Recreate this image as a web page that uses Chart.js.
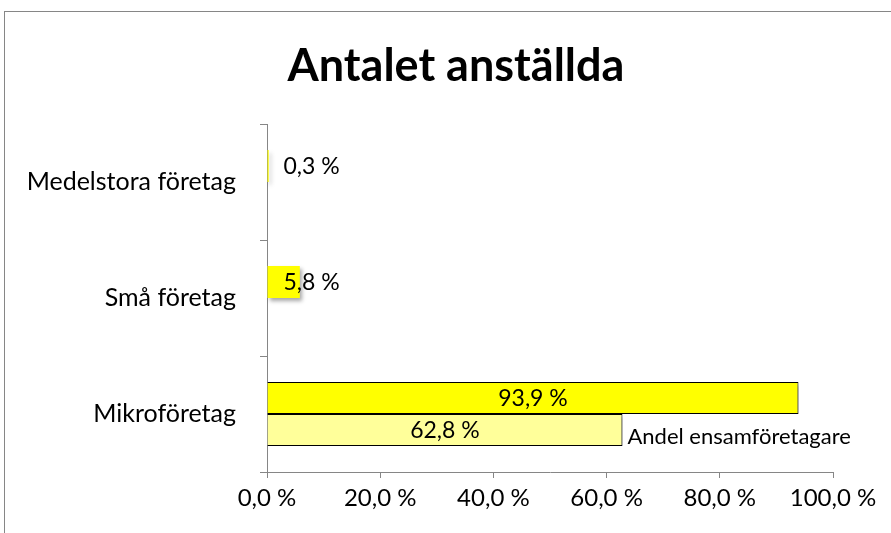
<!DOCTYPE html>
<html><head><meta charset="utf-8">
<script src="https://cdn.jsdelivr.net/npm/chart.js@4"></script>
<style>html,body{margin:0;padding:0;background:#fff}#wrap{width:891px;height:533px}</style>
</head><body><div id="wrap"><canvas id="c" width="891" height="533"></canvas></div>
<script>
const categories = ['Medelstora företag', 'Små företag', 'Mikroföretag'];
const andelForetag = [0.3, 5.8, 93.9];
const andelEnsam = [null, null, 62.8];
const seriesNames = ['Andel företag', 'Andel ensamföretagare'];
const chartTitle = 'Antalet anställda';
const xTicks = [0, 20, 40, 60, 80, 100];

const FONT = 'Lato, "Open Sans", sans-serif';
const fmt = v => v.toFixed(1).replace('.', ',') + ' %';

const framePlugin = {
  id: 'frame',
  beforeDraw(chart) {
    const ctx = chart.ctx;
    ctx.save();
    ctx.fillStyle = '#fff';
    ctx.fillRect(0, 0, chart.width, chart.height);
    ctx.strokeStyle = '#868686';
    ctx.lineWidth = 1;
    ctx.strokeRect(4.5, 11.5, 2000, 2000);
    ctx.fillStyle = '#000';
    ctx.font = 'bold 45px ' + FONT;
    ctx.textAlign = 'center';
    ctx.textBaseline = 'middle';
    ctx.fillText(chartTitle, 456, 66);
    ctx.restore();
  }
};

const shadowPlugin = {
  id: 'shadow',
  beforeDatasetsDraw(chart) {
    const ctx = chart.ctx;
    ctx.save();
    ctx.shadowColor = 'rgba(0,0,0,0.35)';
    ctx.shadowOffsetX = 2;
    ctx.shadowOffsetY = 3;
    ctx.shadowBlur = 4;
  },
  afterDatasetsDraw(chart) {
    chart.ctx.restore();
  }
};

const labelPlugin = {
  id: 'labels',
  afterDatasetsDraw(chart) {
    const ctx = chart.ctx;
    ctx.save();
    ctx.fillStyle = '#000';
    ctx.textBaseline = 'middle';
    chart.data.datasets.forEach((ds, di) => {
      const meta = chart.getDatasetMeta(di);
      meta.data.forEach((bar, i) => {
        const v = ds.data[i];
        if (v == null) return;
        const x0 = bar.base, x1 = bar.x;
        ctx.font = '23px ' + FONT;
        const t = fmt(v);
        const w = ctx.measureText(t).width;
        if (x1 - x0 > w + 10) {
          ctx.textAlign = 'center';
          ctx.fillText(t, (x0 + x1) / 2, bar.y + 1);
        } else {
          ctx.textAlign = 'left';
          ctx.fillText(t, x0 + 16, bar.y + 1);
        }
        if (di === 1) {
          ctx.font = '22px ' + FONT;
          ctx.textAlign = 'left';
          ctx.fillText(ds.label, x1 + 5, bar.y + 7);
        }
      });
    });
    ctx.restore();
  }
};

new Chart(document.getElementById('c'), {
  type: 'bar',
  data: {
    labels: categories,
    datasets: [
      {
        label: seriesNames[0],
        data: andelForetag,
        backgroundColor: '#FFFF00',
        borderColor: '#000',
        borderWidth: [0, 0, 1],
        categoryPercentage: 0.55,
        barPercentage: 1.0
      },
      {
        label: seriesNames[1],
        data: andelEnsam,
        backgroundColor: '#FFFF9A',
        borderColor: '#000',
        borderWidth: 1,
        categoryPercentage: 0.55,
        barPercentage: 1.0
      }
    ]
  },
  options: {
    indexAxis: 'y',
    responsive: false,
    animation: false,
    layout: { padding: { top: 124, right: 58, left: 0, bottom: 0 } },
    plugins: { legend: { display: false }, tooltip: { enabled: false }, title: { display: false } },
    scales: {
      x: {
        min: 0, max: 100,
        afterBuildTicks: s => { s.ticks = xTicks.map(v => ({ value: v })); },
        afterFit: s => { s.height = 61; },
        grid: { drawOnChartArea: false, drawTicks: true, tickLength: 6, color: '#868686' },
        border: { color: '#868686', width: 1 },
        ticks: { color: '#000', font: { family: FONT, size: 24 }, padding: 6, callback: v => fmt(v), maxRotation: 0 }
      },
      y: {
        afterFit: s => { s.width = 267; },
        grid: { drawOnChartArea: false, drawTicks: true, tickLength: 7, color: '#868686', offset: true },
        border: { color: '#868686', width: 1 },
        ticks: { color: '#000', font: { family: FONT, size: 25 }, padding: 24 }
      }
    }
  },
  plugins: [framePlugin, shadowPlugin, labelPlugin]
});
</script>
</body></html>
